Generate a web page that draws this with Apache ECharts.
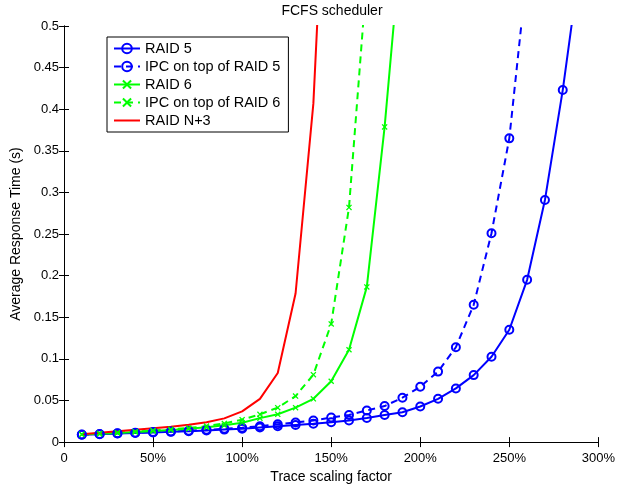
<!DOCTYPE html>
<html>
<head>
<meta charset="utf-8">
<script src="https://cdn.jsdelivr.net/npm/echarts@6/dist/echarts.min.js"></script>
<style>html,body{margin:0;padding:0;background:#fff;}#c{width:618px;height:489px;}</style>
</head>
<body>
<div id="c"></div>
<script>
const xRAID5 = [10,20,30,40,50,60,70,80,90,100,110,120,130,140,150,160,170,180,190,200,210,220,230,240,250,260,270,280,290];
const yRAID5 = [0.0088,0.0095,0.0103,0.011,0.0116,0.0123,0.013,0.0139,0.015,0.016,0.0175,0.019,0.0205,0.022,0.0238,0.026,0.029,0.0325,0.0358,0.0428,0.052,0.0645,0.0805,0.1025,0.135,0.195,0.291,0.423,0.58];
const xIPC5 = [10,20,30,40,50,60,70,80,90,100,110,120,130,140,150,160,170,180,190,200,210,220,230,240,250,260];
const yIPC5 = [0.009,0.0097,0.0105,0.0113,0.012,0.0128,0.0137,0.0147,0.016,0.0173,0.019,0.0215,0.0235,0.026,0.0295,0.0326,0.038,0.0433,0.0534,0.0665,0.0847,0.114,0.165,0.251,0.365,0.567];
const xRAID6 = [10,20,30,40,50,60,70,80,90,100,110,120,130,140,150,160,170,180,190];
const yRAID6 = [0.0092,0.0101,0.011,0.012,0.0132,0.0145,0.016,0.0178,0.0202,0.0233,0.0288,0.0334,0.0414,0.052,0.0731,0.111,0.1865,0.3787,0.62];
const xIPC6 = [10,20,30,40,50,60,70,80,90,100,110,120,130,140,150,160,170];
const yIPC6 = [0.0093,0.0103,0.0113,0.0125,0.0138,0.0153,0.017,0.0192,0.0225,0.027,0.0334,0.0414,0.0553,0.081,0.142,0.282,0.56];
const xRAIDN3 = [10,20,30,40,50,60,70,80,90,100,110,120,130,140,150];
const yRAIDN3 = [0.0095,0.0112,0.013,0.0148,0.0165,0.0185,0.0208,0.0238,0.0285,0.037,0.052,0.083,0.1786,0.407,0.85];
const seriesNames = ['RAID 5','IPC on top of RAID 5','RAID 6','IPC on top of RAID 6','RAID N+3'];

const FONT = '"Liberation Sans", Arial, Helvetica, sans-serif';
const BLUE = '#0000ff', GREEN = '#00ff00', RED = '#ff0000';
const XMARK = 'path://M1.5,0L5,3.5L8.5,0L10,1.5L6.5,5L10,8.5L8.5,10L5,6.5L1.5,10L0,8.5L3.5,5L0,1.5Z';

function pairs(xs, ys){ return xs.map((x,i)=>[x, ys[i]]); }

const chart = echarts.init(document.getElementById('c'), null, {renderer:'canvas'});
const axisCommon = {
  axisLine:{show:true, lineStyle:{color:'#000', width:1}},
  axisTick:{show:true, inside:true, length:5, lineStyle:{color:'#000'}},
  splitLine:{show:false}
};
chart.setOption({
  animation:false,
  backgroundColor:'#fff',
  textStyle:{fontFamily:FONT},
  graphic:[{type:'text', x:332, y:4, style:{text:'FCFS scheduler', font:'14px '+FONT, fill:'#000', textAlign:'center'}}],
  grid:{left:64, right:18, top:26, bottom:41, containLabel:false},
  legend:{
    data:[
      {name:seriesNames[0]},{name:seriesNames[1]},{name:seriesNames[2]},{name:seriesNames[3]},
      {name:seriesNames[4], icon:'path://M0,0L26,0L26,2L0,2Z'}
    ],
    orient:'vertical', left:107, top:37,
    backgroundColor:'#fff', borderColor:'#000', borderWidth:1,
    padding:[4,8,4,6], itemGap:3, itemWidth:26, itemHeight:12,
    textStyle:{fontFamily:FONT, fontSize:14.5, lineHeight:14, color:'#000'}
  },
  xAxis:[
    Object.assign({type:'value', min:0, max:300, interval:50, position:'bottom',
      name:'Trace scaling factor', nameLocation:'middle', nameGap:23,
      nameTextStyle:{fontFamily:FONT, fontSize:14, color:'#000'},
      axisLabel:{color:'#000', fontSize:13, fontFamily:FONT, margin:10, formatter:v=> v===0?'0':v+'%'}}, axisCommon),
    Object.assign({type:'value', min:0, max:300, interval:50, position:'top', axisLabel:{show:false}}, axisCommon)
  ],
  yAxis:[
    Object.assign({type:'value', min:0, max:0.5, interval:0.05, position:'left',
      name:'Average Response Time (s)', nameLocation:'middle', nameGap:38,
      nameTextStyle:{fontFamily:FONT, fontSize:14, color:'#000'},
      axisLabel:{color:'#000', fontSize:13, fontFamily:FONT, margin:5}}, axisCommon),
    Object.assign({type:'value', min:0, max:0.5, interval:0.05, position:'right', axisLabel:{show:false}}, axisCommon)
  ],
  series:[
    {name:seriesNames[0], type:'line', data:pairs(xRAID5,yRAID5), symbol:'circle', symbolSize:8,
     lineStyle:{color:BLUE, width:2}, itemStyle:{color:'rgba(0,0,0,0)', borderColor:BLUE, borderWidth:2}},
    {name:seriesNames[1], type:'line', data:pairs(xIPC5,yIPC5), symbol:'circle', symbolSize:8,
     lineStyle:{color:BLUE, width:2, type:[7,5]}, itemStyle:{color:'rgba(0,0,0,0)', borderColor:BLUE, borderWidth:2}},
    {name:seriesNames[2], type:'line', data:pairs(xRAID6,yRAID6), symbol:XMARK, symbolSize:6,
     lineStyle:{color:GREEN, width:2}, itemStyle:{color:GREEN}},
    {name:seriesNames[3], type:'line', data:pairs(xIPC6,yIPC6), symbol:XMARK, symbolSize:6,
     lineStyle:{color:GREEN, width:2, type:[7,5]}, itemStyle:{color:GREEN}},
    {name:seriesNames[4], type:'line', data:pairs(xRAIDN3,yRAIDN3), symbol:'none',
     lineStyle:{color:RED, width:2}, itemStyle:{color:RED}}
  ]
});
</script>
</body>
</html>
